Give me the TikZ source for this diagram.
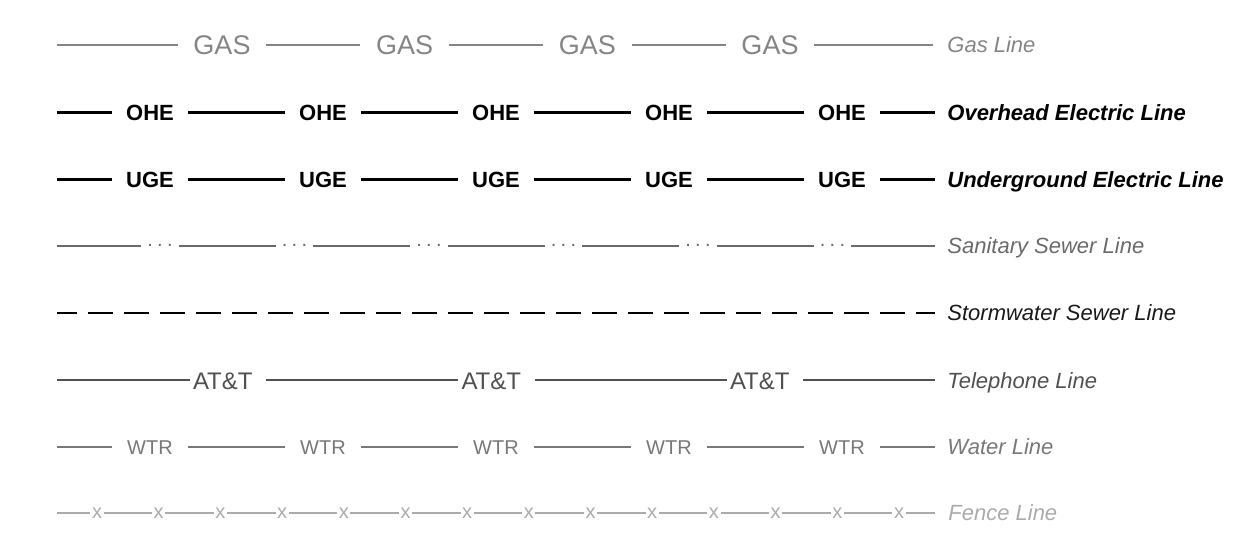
\documentclass[tikz,border=0pt]{standalone}
\usepackage{fontspec}
\setmainfont{Liberation Sans}
\usepackage{xcolor}
\usepackage{tikz}
\usetikzlibrary{positioning}

\definecolor{gasGray}{HTML}{858585}
\definecolor{sanGray}{HTML}{6A6A6A}
\definecolor{telGray}{HTML}{505050}
\definecolor{wtrGray}{HTML}{787878}
\definecolor{fenGray}{HTML}{ABABAB}

\tikzstyle{tsLegend} = [
    inner sep=0pt,
    text height=7.9pt,
    text depth=0pt,
    font=\itshape\fontsize{11}{13}\selectfont
]
\tikzstyle{tsLegendBold} = [
    tsLegend,
    font=\bfseries\itshape\fontsize{11}{13}\selectfont
]
\tikzstyle{tsTag} = [
    inner sep=0pt,
    text depth=0pt,
    minimum width=38pt
]
\tikzstyle{tsGasTag} = [
    tsTag,
    text=gasGray,
    minimum width=44pt,
    text height=9.7pt,
    font=\fontsize{13.5}{16}\selectfont
]
\tikzstyle{tsElecTag} = [
    tsTag,
    text height=7.9pt,
    font=\bfseries\fontsize{11}{13}\selectfont
]
\tikzstyle{tsWtrTag} = [
    tsTag,
    text=wtrGray,
    text height=7.2pt,
    font=\fontsize{10}{12}\selectfont
]
\tikzstyle{tsTelTag} = [
    inner ysep=0pt,
    inner xsep=1.5pt,
    text width=35pt,
    align=left,
    text height=8.6pt,
    text depth=0pt,
    text=telGray,
    font=\fontsize{12}{14}\selectfont
]
\tikzstyle{tsSanTag} = [
    tsTag,
    minimum width=18.5pt,
    text height=1pt,
    text=sanGray,
    font=\fontsize{10}{12}\selectfont
]
\tikzstyle{tsFenTag} = [
    inner ysep=0pt,
    inner xsep=0.6pt,
    text=fenGray,
    font=\fontsize{10}{12}\selectfont
]

\begin{document}
\begin{tikzpicture}[x=0.5pt, y=-0.5pt]

        \useasboundingbox (0,0) rectangle (1244,550);

        % gas
        \coordinate (gasS) at (57,45);
        \coordinate (gasE) at (933,45);
        \node[tsGasTag] (gas1) at (222,45) {GAS};
        \node[tsGasTag] (gas2) at (404.7,45) {GAS};
        \node[tsGasTag] (gas3) at (587.4,45) {GAS};
        \node[tsGasTag] (gas4) at (770,45) {GAS};
        \draw[gasGray, line width=0.75pt] (gasS) -- (gas1) -- (gas2) -- (gas3) -- (gas4) -- (gasE);
        \node[tsLegend, text=gasGray, right=7pt of gasE] (gasLeg) {Gas Line};

        % overhead electric
        \coordinate (oheS) at (57,112.5);
        \coordinate (oheE) at (935,112.5);
        \node[tsElecTag] (ohe1) at (150,112.5) {OHE};
        \node[tsElecTag] (ohe2) at (323,112.5) {OHE};
        \node[tsElecTag] (ohe3) at (496,112.5) {OHE};
        \node[tsElecTag] (ohe4) at (669,112.5) {OHE};
        \node[tsElecTag] (ohe5) at (842,112.5) {OHE};
        \draw[black, line width=1.2pt] (oheS) -- (ohe1) -- (ohe2) -- (ohe3) -- (ohe4) -- (ohe5) -- (oheE);
        \node[tsLegendBold, right=6pt of oheE] (oheLeg) {Overhead Electric Line};

        % underground electric
        \coordinate (ugeS) at (57,179.5);
        \coordinate (ugeE) at (935,179.5);
        \node[tsElecTag] (uge1) at (150,179.5) {UGE};
        \node[tsElecTag] (uge2) at (323,179.5) {UGE};
        \node[tsElecTag] (uge3) at (496,179.5) {UGE};
        \node[tsElecTag] (uge4) at (669,179.5) {UGE};
        \node[tsElecTag] (uge5) at (842,179.5) {UGE};
        \draw[black, line width=1.2pt] (ugeS) -- (uge1) -- (uge2) -- (uge3) -- (uge4) -- (uge5) -- (ugeE);
        \node[tsLegendBold, right=6pt of ugeE] (ugeLeg) {Underground Electric Line};

        % sanitary sewer
        \coordinate (sanS) at (57,246);
        \coordinate (sanE) at (935,246);
        \node[tsSanTag] (san1) at (160,246) {.\hspace{2.2pt}.\hspace{2.2pt}.};
        \node[tsSanTag] (san2) at (294.5,246) {.\hspace{2.2pt}.\hspace{2.2pt}.};
        \node[tsSanTag] (san3) at (429,246) {.\hspace{2.2pt}.\hspace{2.2pt}.};
        \node[tsSanTag] (san4) at (563.5,246) {.\hspace{2.2pt}.\hspace{2.2pt}.};
        \node[tsSanTag] (san5) at (698,246) {.\hspace{2.2pt}.\hspace{2.2pt}.};
        \node[tsSanTag] (san6) at (832.5,246) {.\hspace{2.2pt}.\hspace{2.2pt}.};
        \draw[sanGray, line width=1pt] (sanS) -- (san1) -- (san2) -- (san3) -- (san4) -- (san5) -- (san6) -- (sanE);
        \node[tsLegend, text=sanGray, right=6pt of sanE] (sanLeg) {Sanitary Sewer Line};

        % stormwater sewer
        \coordinate (stmS) at (57,313);
        \coordinate (stmE) at (935,313);
        \draw[black, line width=1.2pt, dash pattern=on 12.5pt off 5.5pt, dash phase=2.5pt] (stmS) -- (stmE);
        \node[tsLegend, text=black!90, right=6pt of stmE] (stmLeg) {Stormwater Sewer Line};

        % telephone
        \coordinate (telS) at (57,380.5);
        \coordinate (telE) at (935,380.5);
        \node[tsTelTag] (tel1) at (228,380.5) {AT\&T};
        \node[tsTelTag] (tel2) at (496.5,380.5) {AT\&T};
        \node[tsTelTag] (tel3) at (765,380.5) {AT\&T};
        \draw[telGray, line width=1pt] (telS) -- (tel1) -- (tel2) -- (tel3) -- (telE);
        \node[tsLegend, text=telGray, right=6pt of telE] (telLeg) {Telephone Line};

        % water
        \coordinate (wtrS) at (57,447);
        \coordinate (wtrE) at (935,447);
        \node[tsWtrTag] (wtr1) at (150,447) {WTR};
        \node[tsWtrTag] (wtr2) at (323,447) {WTR};
        \node[tsWtrTag] (wtr3) at (496,447) {WTR};
        \node[tsWtrTag] (wtr4) at (669,447) {WTR};
        \node[tsWtrTag] (wtr5) at (842,447) {WTR};
        \draw[wtrGray, line width=0.9pt] (wtrS) -- (wtr1) -- (wtr2) -- (wtr3) -- (wtr4) -- (wtr5) -- (wtrE);
        \node[tsLegend, text=wtrGray, right=6pt of wtrE] (wtrLeg) {Water Line};

        % fence
        \coordinate (fenS) at (57,513);
        \coordinate (fenE) at (935,513);
        \node[tsFenTag] (fen1) at (97,513) {x};
        \node[tsFenTag] (fen2) at (158.7,513) {x};
        \node[tsFenTag] (fen3) at (220.4,513) {x};
        \node[tsFenTag] (fen4) at (282.1,513) {x};
        \node[tsFenTag] (fen5) at (343.8,513) {x};
        \node[tsFenTag] (fen6) at (405.5,513) {x};
        \node[tsFenTag] (fen7) at (467.2,513) {x};
        \node[tsFenTag] (fen8) at (528.8,513) {x};
        \node[tsFenTag] (fen9) at (590.5,513) {x};
        \node[tsFenTag] (fen10) at (652.2,513) {x};
        \node[tsFenTag] (fen11) at (713.9,513) {x};
        \node[tsFenTag] (fen12) at (775.6,513) {x};
        \node[tsFenTag] (fen13) at (837.3,513) {x};
        \node[tsFenTag] (fen14) at (899,513) {x};
        \draw[fenGray, line width=0.9pt] (fenS) -- (fen1) -- (fen2) -- (fen3) -- (fen4) -- (fen5) -- (fen6) -- (fen7)
            -- (fen8) -- (fen9) -- (fen10) -- (fen11) -- (fen12) -- (fen13) -- (fen14) -- (fenE);
        \node[tsLegend, text=fenGray, right=6.5pt of fenE] (fenLeg) {Fence Line};

\end{tikzpicture}
\end{document}
